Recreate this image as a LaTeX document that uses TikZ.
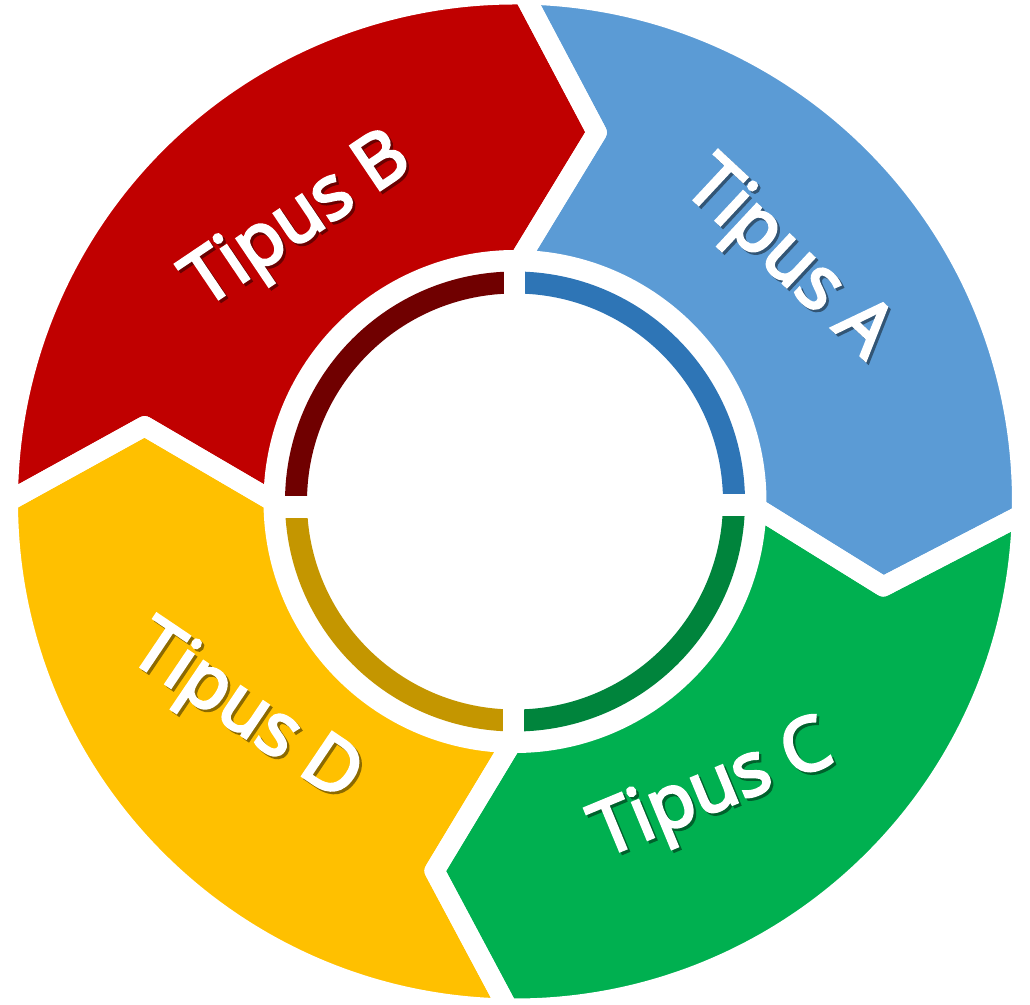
\documentclass[tikz,border=0pt]{standalone}
\usepackage{fontspec}
\setmainfont{Open Sans}
\newfontfamily\semib[FakeBold=4]{Open Sans}
\usetikzlibrary{calc}
\definecolor{cA}{HTML}{5B9BD5}
\definecolor{cB}{HTML}{C00000}
\definecolor{cC}{HTML}{00B050}
\definecolor{cD}{HTML}{FFC000}
\definecolor{rA}{HTML}{2E75B6}
\definecolor{rB}{HTML}{700000}
\definecolor{rC}{HTML}{00843C}
\definecolor{rD}{HTML}{C49600}
\tikzset{
  segfill/.style={fill=#1, draw=none},
  segedge/.style={draw=white, line width=20pt, line join=round},
  ringarc/.style={draw=#1, line width=22pt},
  lbl/.style={text=white, font=\semib\fontsize{74}{74}\selectfont, inner sep=0pt}
}
% #1 position, #2 rotation, #3 text, #4 name, #5 #6 shadow offset in node frame, #7 shadow colour
\newcommand\tiplabel[7]{%
  \node[lbl, rotate=#2] (#4) at (#1)
    {\rlap{\hspace*{#5pt}\raisebox{#6pt}{\textcolor{#7}{#3}}}#3};}
\begin{document}
\begin{tikzpicture}[x=1pt,y=1pt]
\useasboundingbox (0,0) rectangle (1030,1004);
\begin{scope}[shift={(515,502.5)}]
  % segment fills
  \path[segfill=cA] (89:507pt) arc[start angle=89,end angle=-1.5,radius=507pt] -- (-13:378pt) -- (-1.5:241.5pt) arc[start angle=-1.5,end angle=89,radius=241.5pt] -- (77.5:378pt) -- cycle;
  \path[segfill=cC] (-1.5:507pt) arc[start angle=-1.5,end angle=-90.8,radius=507pt] -- (-102.3:378pt) -- (-90.8:241.5pt) arc[start angle=-90.8,end angle=-1.5,radius=241.5pt] -- (-13:378pt) -- cycle;
  \path[segfill=cD] (-90.8:507pt) arc[start angle=-90.8,end angle=-180,radius=507pt] -- (-191.5:378pt) -- (-180:241.5pt) arc[start angle=-180,end angle=-90.8,radius=241.5pt] -- (-102.3:378pt) -- cycle;
  \path[segfill=cB] (180:507pt) arc[start angle=180,end angle=89,radius=507pt] -- (77.5:378pt) -- (89:241.5pt) arc[start angle=89,end angle=180,radius=241.5pt] -- (168.5:378pt) -- cycle;
  % white separating strokes
  \path[segedge] (89:507pt) arc[start angle=89,end angle=-1.5,radius=507pt] -- (-13:378pt) -- (-1.5:241.5pt) arc[start angle=-1.5,end angle=89,radius=241.5pt] -- (77.5:378pt) -- cycle;
  \path[segedge] (-1.5:507pt) arc[start angle=-1.5,end angle=-90.8,radius=507pt] -- (-102.3:378pt) -- (-90.8:241.5pt) arc[start angle=-90.8,end angle=-1.5,radius=241.5pt] -- (-13:378pt) -- cycle;
  \path[segedge] (-90.8:507pt) arc[start angle=-90.8,end angle=-180,radius=507pt] -- (-191.5:378pt) -- (-180:241.5pt) arc[start angle=-180,end angle=-90.8,radius=241.5pt] -- (-102.3:378pt) -- cycle;
  \path[segedge] (180:507pt) arc[start angle=180,end angle=89,radius=507pt] -- (77.5:378pt) -- (89:241.5pt) arc[start angle=89,end angle=180,radius=241.5pt] -- (168.5:378pt) -- cycle;
  % inner ring
  \draw[ringarc=rA] (90:219pt) arc[start angle=90,end angle=0,radius=219pt];
  \draw[ringarc=rC] (0:219pt) arc[start angle=0,end angle=-90,radius=219pt];
  \draw[ringarc=rD] (-90:219pt) arc[start angle=-90,end angle=-180,radius=219pt];
  \draw[ringarc=rB] (180:219pt) arc[start angle=180,end angle=90,radius=219pt];
  % ring gaps
  \fill[white] (-11,190) rectangle (10,236);
  \fill[white] (-12,-236) rectangle (9,-190);
  \fill[white] (190,-14.5) rectangle (236,7);
  \fill[white] (-236,-16.5) rectangle (-190,5.5);
\end{scope}
\coordinate (pA) at (786,743);
\coordinate (pB) at (300,780);
\coordinate (pC) at (714,210);
\coordinate (pD) at (244,289);
\tiplabel{pA}{-43}{Tipus A}{tA}{3.5}{-0.1}{cA!55!black}
\tiplabel{pB}{34}{Tipus B}{tB}{0.7}{-3.5}{cB!55!black}
\tiplabel{pC}{22.5}{Tipus C}{tC}{1.4}{-3.3}{cC!55!black}
\tiplabel{pD}{-34}{Tipus D}{tD}{3.5}{-0.7}{cD!55!black}
\end{tikzpicture}
\end{document}
